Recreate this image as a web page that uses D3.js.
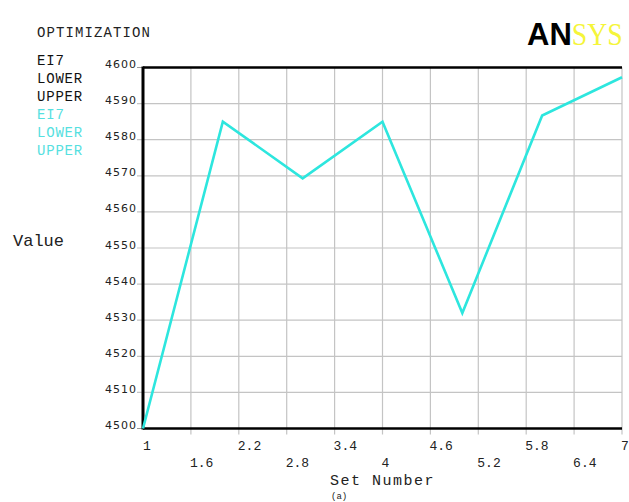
<!DOCTYPE html>
<html>
    <head>
        <title>Optimization | D3</title>
        <script src="https://d3js.org/d3.v7.min.js" charset="utf-8"></script>
        <style>
            body {
                margin: 0;
                background: white;
            }
            .mono {
                font-family: "Liberation Mono", "DejaVu Sans Mono", monospace;
            }
        </style>
    </head>
    <body>
        <script>
            // data
            var setNumbers = [1, 2, 3, 4, 5, 6, 7];
            var ei7Values = [4500, 4585, 4569.3, 4585, 4532, 4586.7, 4597.3];
            var yTicks = [4500, 4510, 4520, 4530, 4540, 4550, 4560, 4570, 4580, 4590, 4600];
            var xTicks = [1, 1.6, 2.2, 2.8, 3.4, 4, 4.6, 5.2, 5.8, 6.4, 7];
            var xTickLabels = ["1", "1.6", "2.2", "2.8", "3.4", "4", "4.6", "5.2", "5.8", "6.4", "7"];
            var legendBlack = ["EI7", "LOWER", "UPPER"];
            var legendCyan = ["EI7", "LOWER", "UPPER"];

            var width = 629;
            var height = 502;
            var cyan = "#2de6de";

            var svg = d3.select("body")
                .append("svg")
                .attr("width", width)
                .attr("height", height);

            var x = d3.scaleLinear().domain([1, 7]).range([143, 622]);
            var y = d3.scaleLinear().domain([4500, 4600]).range([428.5, 67.5]);

            // grid
            var grid = svg.append("g");
            grid.selectAll("line.v")
                .data(xTicks.slice(1))
                .enter()
                .append("line")
                .attr("x1", function(d) { return x(d); })
                .attr("x2", function(d) { return x(d); })
                .attr("y1", y(4600))
                .attr("y2", y(4500) + 6)
                .attr("stroke", "#c4c4c4")
                .attr("stroke-width", 1.2);
            grid.selectAll("line.h")
                .data(yTicks.slice(1, -1))
                .enter()
                .append("line")
                .attr("x1", x(1) - 6)
                .attr("x2", x(7))
                .attr("y1", function(d) { return y(d); })
                .attr("y2", function(d) { return y(d); })
                .attr("stroke", "#c4c4c4")
                .attr("stroke-width", 1.2);

            // y tick marks on the ends
            svg.selectAll("line.yt")
                .data([4500, 4600])
                .enter()
                .append("line")
                .attr("x1", x(1) - 6)
                .attr("x2", x(1))
                .attr("y1", function(d) { return y(d); })
                .attr("y2", function(d) { return y(d); })
                .attr("stroke", "#999")
                .attr("stroke-width", 1);

            // frame: left, bottom, top
            svg.append("line")
                .attr("x1", x(1)).attr("x2", x(1))
                .attr("y1", y(4600) - 1).attr("y2", y(4500) + 1)
                .attr("stroke", "black").attr("stroke-width", 3);
            svg.append("line")
                .attr("x1", x(1)).attr("x2", x(7))
                .attr("y1", y(4500)).attr("y2", y(4500))
                .attr("stroke", "black").attr("stroke-width", 2.5);
            svg.append("line")
                .attr("x1", x(1)).attr("x2", x(7))
                .attr("y1", y(4600)).attr("y2", y(4600))
                .attr("stroke", "black").attr("stroke-width", 2.5);

            // y labels
            svg.selectAll("text.ylab")
                .data(yTicks)
                .enter()
                .append("text")
                .attr("x", 137)
                .attr("y", function(d) { return y(d) + 0.5; })
                .attr("text-anchor", "end")
                .attr("font-family", "'DejaVu Sans', Verdana, sans-serif")
                .attr("font-size", 11)
                .attr("letter-spacing", 1)
                .attr("fill", "#222")
                .text(function(d) { return d; });

            // x labels, staggered in two rows
            svg.selectAll("text.xlab")
                .data(xTicks)
                .enter()
                .append("text")
                .attr("class", "mono")
                .attr("x", function(d) { return x(d) - (d === 1 ? 0 : 1); })
                .attr("y", function(d, i) { return i % 2 === 0 ? 450 : 467; })
                .attr("font-size", 13)
                .attr("fill", "#222")
                .text(function(d, i) { return xTickLabels[i]; });

            // data line
            var line = d3.line()
                .x(function(d) { return x(d[0]); })
                .y(function(d) { return y(d[1]); });
            svg.append("path")
                .datum(d3.zip(setNumbers, ei7Values))
                .attr("fill", "none")
                .attr("stroke", cyan)
                .attr("stroke-width", 2.6)
                .attr("stroke-linejoin", "miter")
                .attr("d", line);

            // left texts
            svg.append("text")
                .attr("class", "mono")
                .attr("x", 37).attr("y", 37)
                .attr("font-size", 14)
                .attr("letter-spacing", 1.1)
                .attr("fill", "#222")
                .text("OPTIMIZATION");

            svg.selectAll("text.lb")
                .data(legendBlack)
                .enter()
                .append("text")
                .attr("class", "mono")
                .attr("x", 37)
                .attr("y", function(d, i) { return 65 + i * 18; })
                .attr("font-size", 14)
                .attr("letter-spacing", 0.8)
                .attr("fill", "#111")
                .text(function(d) { return d; });

            svg.selectAll("text.lc")
                .data(legendCyan)
                .enter()
                .append("text")
                .attr("class", "mono")
                .attr("x", 37)
                .attr("y", function(d, i) { return 119 + i * 18; })
                .attr("font-size", 14)
                .attr("letter-spacing", 0.8)
                .attr("fill", "#55e0e0")
                .text(function(d) { return d; });

            svg.append("text")
                .attr("class", "mono")
                .attr("x", 13).attr("y", 246)
                .attr("font-size", 17)
                .attr("fill", "#222")
                .text("Value");

            svg.append("text")
                .attr("class", "mono")
                .attr("x", 330).attr("y", 485)
                .attr("font-size", 15)
                .attr("letter-spacing", 1.5)
                .attr("fill", "#222")
                .text("Set Number");

            svg.append("text")
                .attr("class", "mono")
                .attr("x", 331).attr("y", 499)
                .attr("font-size", 9)
                .attr("fill", "#222")
                .text("(a)");

            // logo
            var logo = svg.append("text")
                .attr("x", 527).attr("y", 45)
                .attr("font-size", 31);
            logo.append("tspan")
                .attr("font-family", "'Liberation Sans', Arial, sans-serif")
                .attr("font-weight", "bold")
                .attr("fill", "black")
                .text("AN");
            logo.append("tspan")
                .attr("font-family", "'Liberation Serif', 'Times New Roman', serif")
                .attr("fill", "#f5f53a")
                .attr("textLength", 51)
                .attr("lengthAdjust", "spacingAndGlyphs")
                .text("SYS");
        </script>
    </body>
</html>
